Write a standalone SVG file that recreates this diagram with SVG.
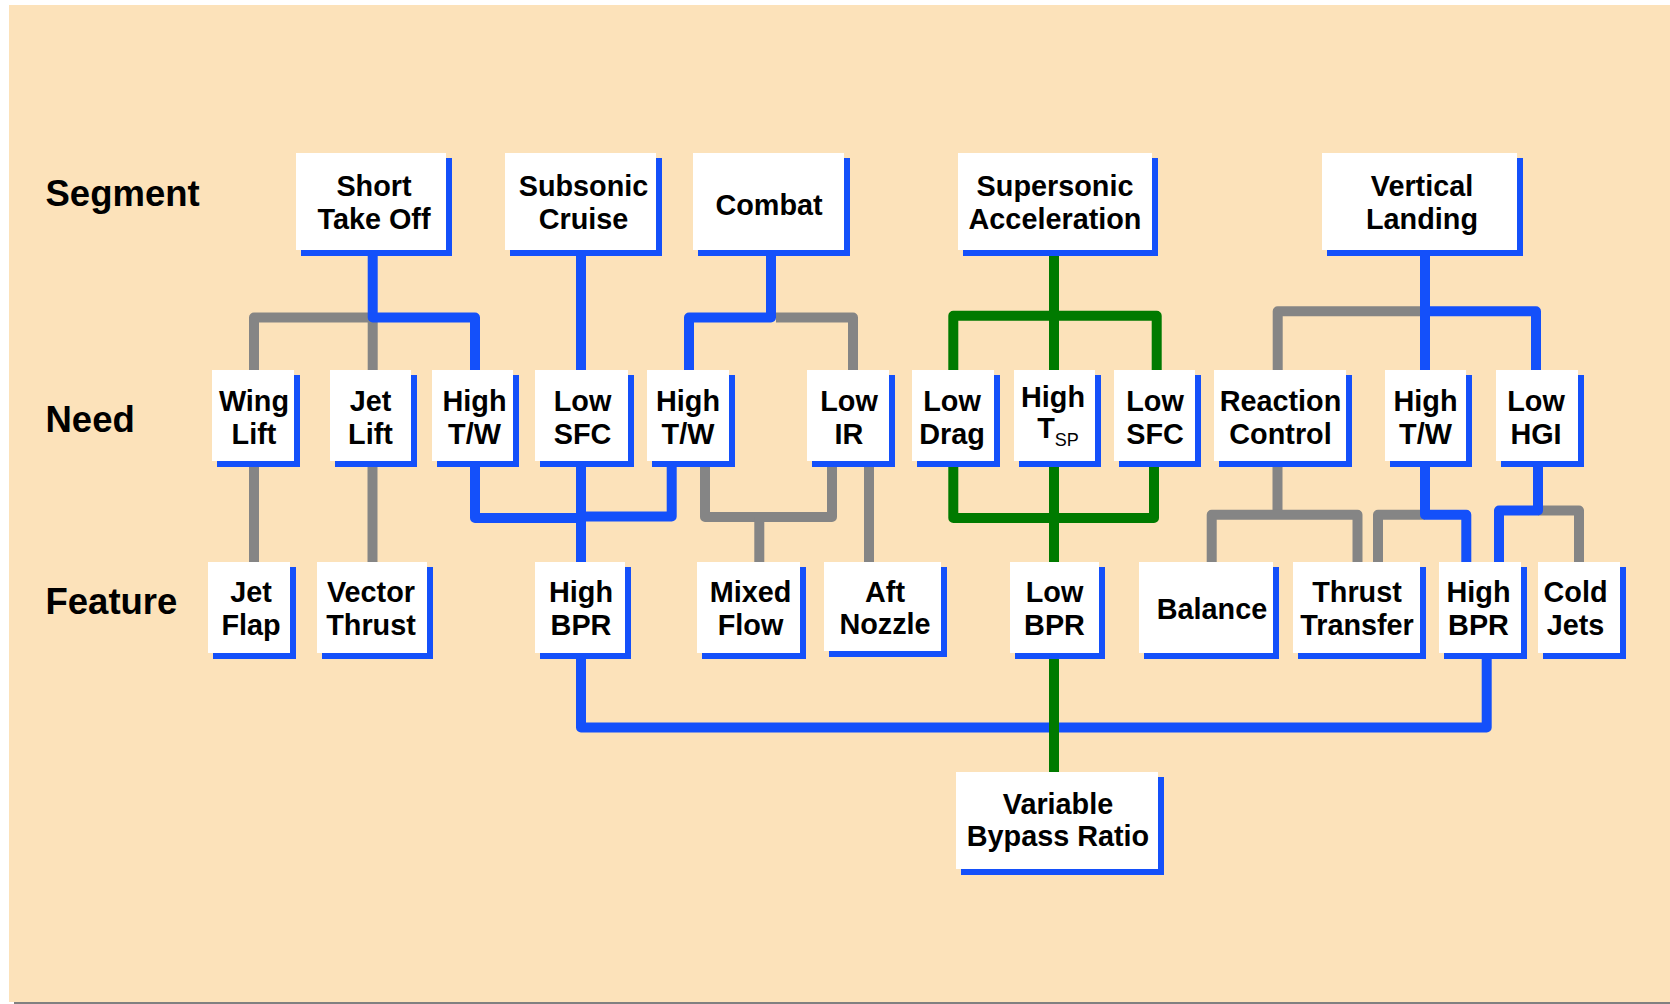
<svg xmlns="http://www.w3.org/2000/svg" width="1670" height="1004" viewBox="0 0 1670 1004">
<style>
.bg{fill:#FCE2BA}
.sh{fill:#1450FA}
.bx{fill:#FFFFFF}
.t{font-family:"Liberation Sans",Arial,sans-serif;font-weight:bold;font-size:28.8px;fill:#000;text-anchor:middle}
.lbl{font-family:"Liberation Sans",Arial,sans-serif;font-weight:bold;font-size:36.5px;fill:#000}
.sub{font-weight:normal;font-size:18px}
.c{fill:none;stroke-width:10;stroke-linejoin:round}
.g{stroke:#858585}
.b{stroke:#1450FA}
.gr{stroke:#007A00}
</style>
<rect x="0" y="0" width="1670" height="1004" fill="#FFFFFF"/>
<rect class="bg" x="9" y="5" width="1661" height="997"/>
<rect x="14" y="1002" width="1656" height="2" fill="#808080"/>
<text class="lbl" x="45.5" y="206">Segment</text>
<text class="lbl" x="45.5" y="431.5">Need</text>
<text class="lbl" x="45.5" y="614">Feature</text>
<g id="connectors">
<path class="c g" d="M254,372 V317.5 H372.7 V372"/>
<path class="c g" d="M776,317.5 H853 V372"/>
<path class="c g" d="M1425,311.3 H1277.7 V372"/>
<path class="c g" d="M254,464 V564"/>
<path class="c g" d="M372.5,464 V564"/>
<path class="c g" d="M705,464 V517 H832 V464"/>
<path class="c g" d="M759.3,517 V564"/>
<path class="c g" d="M869,464 V564"/>
<path class="c g" d="M1277.5,464 V514.7"/>
<path class="c g" d="M1211.7,564 V514.7 H1357.5 V564"/>
<path class="c g" d="M1425,514.7 H1378 V564"/>
<path class="c g" d="M1538,510.5 H1579 V564"/>
<path class="c b" d="M372.7,250 V317.5 H475 V372"/>
<path class="c b" d="M581,250 V372"/>
<path class="c b" d="M771,250 V317.5 H689 V372"/>
<path class="c b" d="M1425,250 V372"/>
<path class="c b" d="M1425,311.3 H1536 V372"/>
<path class="c b" d="M475,464 V518 H581"/>
<path class="c b" d="M581,464 V564"/>
<path class="c b" d="M671.7,464 V516.5 H581"/>
<path class="c b" d="M1425,464 V514.7 H1466.3 V564"/>
<path class="c b" d="M1538,464 V510.5 H1499 V564"/>
<path class="c b" d="M581,655 V727.5 H1486.7 V655"/>
<path class="c gr" d="M1054,250 V372"/>
<path class="c gr" d="M953.3,372 V315.8 H1156.7 V372"/>
<path class="c gr" d="M953.3,464 V518 H1154 V464"/>
<path class="c gr" d="M1054,464 V564"/>
<path class="c gr" d="M1054,655 V774"/>
</g>
<g id="n_short_take_off"><rect class="sh" x="301" y="158" width="151" height="98"/><rect class="bx" x="296" y="153" width="150" height="97"/><text class="t" x="374" y="196">Short</text><text class="t" x="374" y="229">Take Off</text></g>
<g id="n_subsonic_cruise"><rect class="sh" x="510" y="158" width="152" height="98"/><rect class="bx" x="505" y="153" width="151" height="97"/><text class="t" x="583.5" y="196">Subsonic</text><text class="t" x="583.5" y="229">Cruise</text></g>
<g id="n_combat"><rect class="sh" x="698" y="158" width="152" height="98"/><rect class="bx" x="693" y="153" width="151" height="97"/><text class="t" x="769" y="215">Combat</text></g>
<g id="n_supersonic_acceleration"><rect class="sh" x="963" y="158" width="195" height="98"/><rect class="bx" x="958" y="153" width="194" height="97"/><text class="t" x="1055" y="196">Supersonic</text><text class="t" x="1055" y="229">Acceleration</text></g>
<g id="n_vertical_landing"><rect class="sh" x="1327" y="158" width="196" height="98"/><rect class="bx" x="1322" y="153" width="195" height="97"/><text class="t" x="1422" y="196">Vertical</text><text class="t" x="1422" y="229">Landing</text></g>
<g id="n_wing_lift"><rect class="sh" x="217" y="375" width="83" height="92"/><rect class="bx" x="212" y="370" width="82" height="91"/><text class="t" x="254" y="411">Wing</text><text class="t" x="254" y="443.5">Lift</text></g>
<g id="n_jet_lift"><rect class="sh" x="335" y="375" width="82" height="92"/><rect class="bx" x="330" y="370" width="81" height="91"/><text class="t" x="370.5" y="411">Jet</text><text class="t" x="370.5" y="443.5">Lift</text></g>
<g id="n_high_tw_1"><rect class="sh" x="437" y="375" width="82" height="92"/><rect class="bx" x="432" y="370" width="81" height="91"/><text class="t" x="474.5" y="411">High</text><text class="t" x="474.5" y="443.5">T/W</text></g>
<g id="n_low_sfc_1"><rect class="sh" x="540" y="375" width="94" height="92"/><rect class="bx" x="535" y="370" width="93" height="91"/><text class="t" x="582.5" y="411">Low</text><text class="t" x="582.5" y="443.5">SFC</text></g>
<g id="n_high_tw_2"><rect class="sh" x="652" y="375" width="83" height="92"/><rect class="bx" x="647" y="370" width="82" height="91"/><text class="t" x="688" y="411">High</text><text class="t" x="688" y="443.5">T/W</text></g>
<g id="n_low_ir"><rect class="sh" x="812" y="375" width="83" height="92"/><rect class="bx" x="807" y="370" width="82" height="91"/><text class="t" x="849" y="411">Low</text><text class="t" x="849" y="443.5">IR</text></g>
<g id="n_low_drag"><rect class="sh" x="917" y="375" width="83" height="92"/><rect class="bx" x="912" y="370" width="82" height="91"/><text class="t" x="952" y="411">Low</text><text class="t" x="952" y="443.5">Drag</text></g>
<g id="n_high_tsp"><rect class="sh" x="1019" y="375" width="82" height="92"/><rect class="bx" x="1014" y="370" width="81" height="91"/><text class="t" x="1053" y="406.7">High</text><text class="t" x="1058" y="438.3">T<tspan class="sub" dy="7.7">SP</tspan></text></g>
<g id="n_low_sfc_2"><rect class="sh" x="1119" y="375" width="82" height="92"/><rect class="bx" x="1114" y="370" width="81" height="91"/><text class="t" x="1155" y="411">Low</text><text class="t" x="1155" y="443.5">SFC</text></g>
<g id="n_reaction_control"><rect class="sh" x="1219" y="375" width="133" height="92"/><rect class="bx" x="1214" y="370" width="132" height="91"/><text class="t" x="1280.5" y="411">Reaction</text><text class="t" x="1280.5" y="443.5">Control</text></g>
<g id="n_high_tw_3"><rect class="sh" x="1390" y="375" width="82" height="92"/><rect class="bx" x="1385" y="370" width="81" height="91"/><text class="t" x="1425.5" y="411">High</text><text class="t" x="1425.5" y="443.5">T/W</text></g>
<g id="n_low_hgi"><rect class="sh" x="1501" y="375" width="83" height="92"/><rect class="bx" x="1496" y="370" width="82" height="91"/><text class="t" x="1536" y="411">Low</text><text class="t" x="1536" y="443.5">HGI</text></g>
<g id="n_jet_flap"><rect class="sh" x="213" y="567" width="83" height="92"/><rect class="bx" x="208" y="562" width="82" height="91"/><text class="t" x="251" y="602">Jet</text><text class="t" x="251" y="635">Flap</text></g>
<g id="n_vector_thrust"><rect class="sh" x="322" y="567" width="111" height="92"/><rect class="bx" x="317" y="562" width="110" height="91"/><text class="t" x="371" y="602">Vector</text><text class="t" x="371" y="635">Thrust</text></g>
<g id="n_high_bpr_1"><rect class="sh" x="540" y="567" width="91" height="92"/><rect class="bx" x="535" y="562" width="90" height="91"/><text class="t" x="581" y="602">High</text><text class="t" x="581" y="635">BPR</text></g>
<g id="n_mixed_flow"><rect class="sh" x="702" y="567" width="104" height="92"/><rect class="bx" x="697" y="562" width="103" height="91"/><text class="t" x="750.5" y="602">Mixed</text><text class="t" x="750.5" y="635">Flow</text></g>
<g id="n_aft_nozzle"><rect class="sh" x="829" y="567" width="118" height="90"/><rect class="bx" x="824" y="562" width="117" height="89"/><text class="t" x="885" y="602">Aft</text><text class="t" x="885" y="634">Nozzle</text></g>
<g id="n_low_bpr"><rect class="sh" x="1015" y="567" width="90" height="92"/><rect class="bx" x="1010" y="562" width="89" height="91"/><text class="t" x="1054.5" y="602">Low</text><text class="t" x="1054.5" y="635">BPR</text></g>
<g id="n_balance"><rect class="sh" x="1144" y="567" width="135" height="92"/><rect class="bx" x="1139" y="562" width="134" height="91"/><text class="t" x="1212" y="618.5">Balance</text></g>
<g id="n_thrust_transfer"><rect class="sh" x="1298" y="567" width="128" height="92"/><rect class="bx" x="1293" y="562" width="127" height="91"/><text class="t" x="1357" y="602">Thrust</text><text class="t" x="1357" y="635">Transfer</text></g>
<g id="n_high_bpr_2"><rect class="sh" x="1444" y="567" width="83" height="92"/><rect class="bx" x="1439" y="562" width="82" height="91"/><text class="t" x="1478.5" y="602">High</text><text class="t" x="1478.5" y="635">BPR</text></g>
<g id="n_cold_jets"><rect class="sh" x="1543" y="567" width="83" height="92"/><rect class="bx" x="1538" y="562" width="82" height="91"/><text class="t" x="1575.5" y="602">Cold</text><text class="t" x="1575.5" y="635">Jets</text></g>
<g id="n_variable_bypass_ratio"><rect class="sh" x="961" y="777" width="203" height="98"/><rect class="bx" x="956" y="772" width="202" height="97"/><text class="t" x="1058" y="813.5">Variable</text><text class="t" x="1058" y="846">Bypass Ratio</text></g>
</svg>
